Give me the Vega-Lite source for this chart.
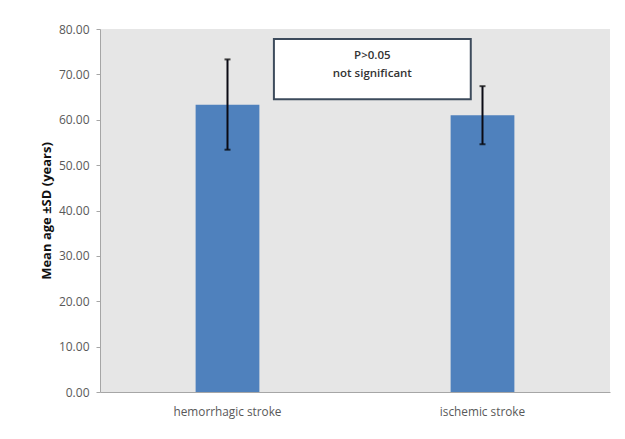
{
  "$schema": "https://vega.github.io/schema/vega-lite/v6.json",
  "width": 510,
  "height": 363,
  "autosize": "none",
  "padding": {"left": 100, "top": 29, "right": 15, "bottom": 47},
  "background": "white",
  "config": {
    "font": "Open Sans",
    "view": {"fill": "#e6e6e6", "stroke": null}
  },
  "datasets": {
    "bars": [
      {"group": "hemorrhagic stroke", "mean": 63.3, "lo": 53.4, "hi": 73.3},
      {"group": "ischemic stroke", "mean": 61.0, "lo": 54.6, "hi": 67.4}
    ],
    "note": [
      {"x0": 0.341, "x1": 0.727, "xm": 0.534, "y0": 64.5, "y1": 77.8, "ym": 74.0, "label": "P>0.05\nnot significant"}
    ]
  },
  "layer": [
    {
      "data": {"name": "bars"},
      "layer": [
        {
          "mark": {"type": "bar", "color": "#4f81bd"},
          "encoding": {
            "x": {
              "field": "group", "type": "nominal", "sort": null,
              "scale": {"paddingInner": 0.75, "paddingOuter": 0.375},
              "axis": {"title": null, "labelAngle": 0, "ticks": false, "labelPadding": 14, "labelFontSize": 11.8, "labelColor": "#595959", "domainColor": "#a6a6a6"}
            },
            "y": {
              "field": "mean", "type": "quantitative",
              "scale": {"domain": [0, 80], "nice": false},
              "axis": {
                "title": "Mean age ±SD (years)", "titleFontSize": 13, "titleFontWeight": "bold", "titleColor": "#111111", "titlePadding": 5,
                "format": ".2f", "values": [0, 10, 20, 30, 40, 50, 60, 70, 80], "labelOverlap": false,
                "grid": false, "tickSize": 4, "tickColor": "#a6a6a6", "domainColor": "#a6a6a6",
                "labelFontSize": 12, "labelColor": "#595959", "labelPadding": 7
              }
            }
          }
        },
        {
          "mark": {"type": "errorbar", "ticks": {"size": 6, "thickness": 2, "color": "#000000"}, "rule": {"strokeWidth": 2, "color": "#0a0a14"}},
          "encoding": {
            "x": {"field": "group", "type": "nominal", "sort": null},
            "y": {"field": "lo", "type": "quantitative", "title": "Mean age ±SD (years)"},
            "y2": {"field": "hi"}
          }
        }
      ]
    },
    {
      "data": {"name": "note"},
      "layer": [
        {
          "mark": {"type": "rect", "fill": "white", "stroke": "#3d4b5c", "strokeWidth": 2},
          "encoding": {
            "x": {"field": "x0", "type": "quantitative", "scale": {"domain": [0, 1], "nice": false}, "axis": null},
            "x2": {"field": "x1"},
            "y": {"field": "y0", "type": "quantitative", "title": "Mean age ±SD (years)"},
            "y2": {"field": "y1"}
          }
        },
        {
          "mark": {"type": "text", "lineBreak": "\n", "fontSize": 11.5, "fontWeight": 600, "color": "#333333", "lineHeight": 18},
          "encoding": {
            "x": {"field": "xm", "type": "quantitative", "scale": {"domain": [0, 1], "nice": false}, "axis": null},
            "y": {"field": "ym", "type": "quantitative", "title": "Mean age ±SD (years)"},
            "text": {"field": "label"}
          }
        }
      ]
    }
  ],
  "resolve": {"scale": {"x": "independent"}}
}
